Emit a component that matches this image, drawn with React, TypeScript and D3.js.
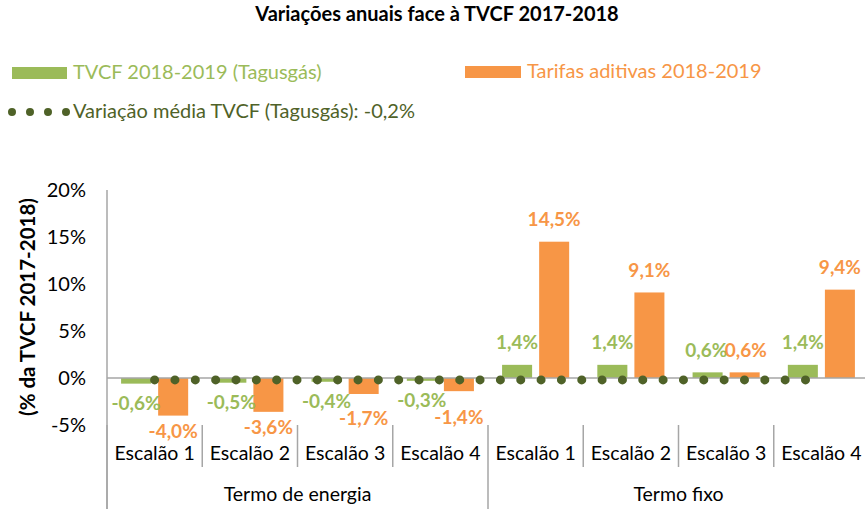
import React from 'react';
import * as d3 from 'd3';

const categories = ['Escalão 1', 'Escalão 2', 'Escalão 3', 'Escalão 4', 'Escalão 1', 'Escalão 2', 'Escalão 3', 'Escalão 4'];
const groups = ['Termo de energia', 'Termo fixo'];
const groupOf = [0, 0, 0, 0, 1, 1, 1, 1];
const tvcf = [-0.6, -0.5, -0.4, -0.3, 1.4, 1.4, 0.6, 1.4];
const tarifas = [-4.0, -3.6, -1.7, -1.4, 14.5, 9.1, 0.6, 9.4];
const mediaTvcf = [-0.2, -0.2, -0.2, -0.2, -0.2, -0.2, -0.2, -0.2];
const yTicks = [-5, 0, 5, 10, 15, 20];

const GREEN = '#9BBB59';
const ORANGE = '#F79646';
const DARK = '#4F6228';
const GRID = '#A6A6A6';
const FONT = 'Lato, Calibri, sans-serif';
const LABEL_SIZE = 19;

const fmt = (v: number) => v.toFixed(1).replace('.', ',') + '%';

const App: React.FC = () => {
  const width = 865;
  const height = 509;
  const left = 107;
  const right = 869;
  const top = 190;
  const bottom = 425;

  const idx = categories.map((_, i) => i);
  const x = d3.scaleBand<number>().domain(idx).range([left, right]);
  const inner = d3.scaleBand<string>()
    .domain(['tvcf', 'tarifas'])
    .range([0, x.bandwidth()])
    .paddingInner(0.19)
    .paddingOuter(0.38);
  const y = d3.scaleLinear().domain([-5, 20]).range([bottom, top]);

  const series = [
    { key: 'tvcf', values: tvcf, color: GREEN },
    { key: 'tarifas', values: tarifas, color: ORANGE },
  ];

  const line = d3.line<number>()
    .x((_, i) => (x(i) || 0) + x.bandwidth() / 2)
    .y(d => y(d));

  const bandEdges = idx.map(i => x(i) || 0);

  // label placement: outside end, pushed apart when the two labels of a category collide
  const labels = idx.flatMap(i => {
    const g = tvcf[i], o = tarifas[i];
    const gx = (x(i) || 0) + (inner('tvcf') || 0) + inner.bandwidth() / 2;
    const ox = (x(i) || 0) + (inner('tarifas') || 0) + inner.bandwidth() / 2;
    const gy = g >= 0 ? y(g) - 22 : y(g) + 20;
    let oy = o >= 0 ? y(o) - 22 : y(o) + 16;
    if (o < 0 && g < 0) oy = Math.max(oy, gy + 17);
    let gxx = gx, oxx = ox;
    const gw = fmt(g).length * LABEL_SIZE * 0.52;
    const ow = fmt(o).length * LABEL_SIZE * 0.52;
    const overlapX = (gw + ow) / 2 - (ox - gx);
    if (Math.abs(gy - oy) < 16 && overlapX > 0) {
      gxx -= overlapX / 2;
      oxx += overlapX / 2;
    }
    return [
      { key: 'g' + i, x: gxx, y: gy, text: fmt(g), color: GREEN },
      { key: 'o' + i, x: oxx, y: oy, text: fmt(o), color: ORANGE },
    ];
  });

  return (
    <svg width={width} height={height} style={{ position: 'absolute', left: 0, top: 0, background: '#fff' }}
      fontFamily={FONT}>
      <text x={437} y={21} textAnchor="middle" fontSize={20} fontWeight="bold" fill="#000">
        Variações anuais face à TVCF 2017-2018
      </text>

      {/* legend */}
      <rect x={12} y={67} width={55} height={12} fill={GREEN} />
      <text x={73} y={79} fontSize={20} fill={GREEN}>TVCF 2018-2019 (Tagusgás)</text>
      <rect x={465} y={66} width={56} height={12} fill={ORANGE} />
      <text x={527} y={78} fontSize={20} fill={ORANGE}>Tarifas aditivas 2018-2019</text>
      <path d="M12,112 L67,112" stroke={DARK} strokeWidth={8} strokeLinecap="round" strokeDasharray="0 18" />
      <text x={73} y={118} fontSize={20} fill={DARK}>Variação média TVCF (Tagusgás): -0,2%</text>

      {/* y axis */}
      <line x1={left} x2={left} y1={top} y2={height} stroke={GRID} strokeWidth={1.5} />
      {yTicks.map(t => (
        <text key={t} x={86} y={y(t) + 7} textAnchor="end" fontSize={20} fill="#000">{t}%</text>
      ))}
      <text transform={`translate(35,307) rotate(-90)`} textAnchor="middle" fontSize={20.5} fontWeight="bold" fill="#000">
        (% da TVCF 2017-2018)
      </text>

      {/* bars */}
      {series.map(s => s.values.map((v, i) => (
        <rect key={s.key + i}
          x={(x(i) || 0) + (inner(s.key) || 0)}
          y={Math.min(y(v), y(0))}
          width={inner.bandwidth()}
          height={Math.abs(y(v) - y(0))}
          fill={s.color} />
      )))}

      {/* zero line */}
      <line x1={left} x2={right} y1={y(0)} y2={y(0)} stroke={GRID} strokeWidth={1.5} />

      {/* average line */}
      <path d={line(mediaTvcf) || ''} fill="none" stroke={DARK} strokeWidth={9}
        strokeLinecap="round" strokeDasharray="0 20.34" />

      {/* data labels */}
      {labels.map(l => (
        <text key={l.key} x={l.x} y={l.y + 6.5} textAnchor="middle" fontSize={LABEL_SIZE}
          fontWeight="bold" fill={l.color}>
          {l.text}
        </text>
      ))}

      {/* category axis */}
      {bandEdges.map((e, i) => (
        i > 0 && groupOf[i] === groupOf[i - 1]
          ? <line key={'t' + i} x1={e} x2={e} y1={bottom} y2={467} stroke={GRID} strokeWidth={1.5} />
          : <line key={'t' + i} x1={e} x2={e} y1={bottom} y2={height} stroke={GRID} strokeWidth={1.5} />
      ))}
      <line x1={right} x2={right} y1={bottom} y2={height} stroke={GRID} strokeWidth={1.5} />
      {categories.map((c, i) => (
        <text key={'c' + i} x={(x(i) || 0) + x.bandwidth() / 2} y={460} textAnchor="middle" fontSize={19.5} fill="#000">
          {c}
        </text>
      ))}
      {groups.map((g, gi) => {
        const members = idx.filter(i => groupOf[i] === gi);
        const x0 = x(members[0]) || 0;
        const x1 = (x(members[members.length - 1]) || 0) + x.bandwidth();
        return (
          <text key={g} x={(x0 + x1) / 2} y={501} textAnchor="middle" fontSize={19.5} fill="#000">{g}</text>
        );
      })}
    </svg>
  );
};

export default App;
